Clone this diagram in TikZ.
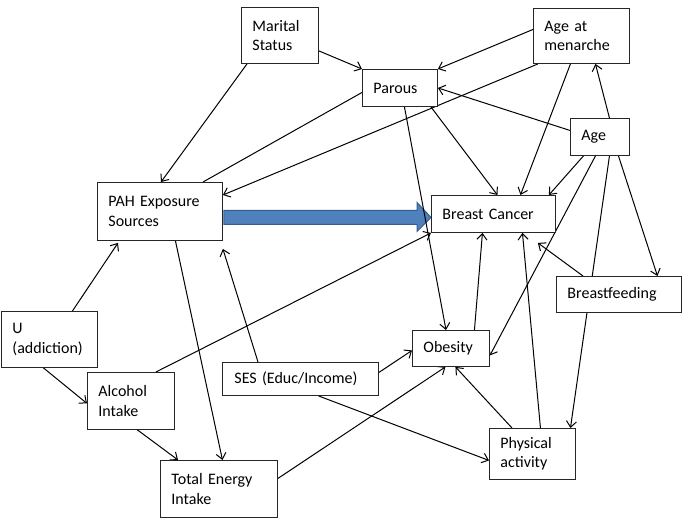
\documentclass[tikz,border=0pt]{standalone}
\usepackage{fontspec}
\setmainfont{Carlito}
\usetikzlibrary{arrows.meta,calc}
\pgfdeclarelayer{background}
\pgfsetlayers{background,main}
\definecolor{arrowblue}{HTML}{4F81BD}
\definecolor{arrowedge}{HTML}{385D8A}
\begin{document}
\begin{tikzpicture}[x=1pt,y=-1pt,
  box/.style={draw=black!85, line width=0.9pt, fill=white, inner xsep=11pt, inner ysep=0pt,
    align=left, font=\fontsize{16}{19.5}\selectfont, anchor=north west},
  link/.style={draw=black, line width=1pt, -{Straight Barb[length=6pt,width=10pt]}},
  plain/.style={draw=black, line width=1pt},
  bigarrow/.style={fill=arrowblue, draw=arrowedge, line width=1pt, line join=miter}]
\useasboundingbox (0,0) rectangle (688,520);

% nodes
\node[box, minimum width=77pt, minimum height=56pt, text width=55pt] (marital) at (241,7) {Marital\\Status};
\node[box, minimum width=75pt, minimum height=37pt, text width=53pt] (parous) at (362,69) {Parous};
\node[box, minimum width=96pt, minimum height=55pt, text width=74pt] (menarche) at (533,8) {Age at\\menarche};
\node[box, minimum width=59pt, minimum height=37pt, text width=37pt] (age) at (570,118) {Age};
\node[box, minimum width=124pt, minimum height=37pt, text width=102pt] (bc) at (431,195) {Breast Cancer};
\node[box, minimum width=125pt, minimum height=58pt, text width=103pt] (pah) at (97,182) {PAH Exposure\\Sources};
\node[box, minimum width=96pt, minimum height=56pt, text width=74pt] (u) at (1,311) {U\\(addiction)};
\node[box, minimum width=87pt, minimum height=57pt, text width=65pt] (alcohol) at (87,372) {Alcohol\\Intake};
\node[box, minimum width=156pt, minimum height=33pt, text width=132pt, inner xsep=12pt] (ses) at (222,362) {SES (Educ/Income)};
\node[box, minimum width=117pt, minimum height=57pt, text width=95pt] (tei) at (160,460) {Total Energy\\Intake};
\node[box, minimum width=77pt, minimum height=36pt, text width=55pt] (obesity) at (412,330) {Obesity};
\node[box, minimum width=125pt, minimum height=36pt, text width=103pt] (bf) at (556,276) {Breastfeeding};
\node[box, minimum width=86pt, minimum height=51pt, text width=64pt] (pa) at (489,428) {Physical\\activity};

\begin{pgfonlayer}{background}
% main blue arrow PAH -> Breast Cancer
\coordinate (ba) at ([xshift=1pt,yshift=-6pt]pah.east);
\coordinate (bt) at ([yshift=-3.5pt]bc.west);
\path[bigarrow] ($(ba)+(0,-7)$) -- ($(bt)+(-14,-7)$) -- ($(bt)+(-14,-15)$) -- (bt)
  -- ($(bt)+(-14,14)$) -- ($(bt)+(-14,7)$) -- ($(ba)+(0,7)$) -- cycle;

% connectors
\draw[link] ([xshift=6pt]marital.south west) -- ([xshift=64pt]pah.north west);
\draw[link] ([yshift=13pt]marital.south east) -- (parous.north west);
\draw[link] ([yshift=6.5pt]menarche.west) -- (parous.north east);
\draw[link] ([xshift=5pt]menarche.south west) -- ([yshift=-13pt]pah.north east);
\draw[plain] ([yshift=-4.5pt]parous.west) -- ([xshift=106pt]pah.north west);
\draw[link] ([xshift=4.5pt]parous.south) -- ([xshift=34pt]obesity.north west);
\draw[link] ([xshift=-7pt]parous.south east) -- ([xshift=4pt]bc.north);
\draw[link] ([xshift=-11pt]menarche.south) -- ([xshift=27pt]bc.north);
\draw[link] ([xshift=9.5pt]age.north) -- ([xshift=14pt]menarche.south);
\draw[link] ([yshift=6.5pt]age.west) -- (parous.east);
\draw[link] ([xshift=-16.5pt]age.south) -- ([xshift=-7pt]bc.north east);
\draw[link] ([xshift=-4.5pt]age.south) -- ([yshift=-7pt]obesity.east);
\draw[link] ([xshift=9.5pt]age.south) -- ([xshift=38pt]pa.north);
\draw[link] ([xshift=18.5pt]age.south) -- ([xshift=38.5pt]bf.north);
\draw[link] ([xshift=27pt]bf.north west) -- ([xshift=-18pt,yshift=-10pt]bc.south east);
\draw[link] ([xshift=23.5pt]obesity.north) -- ([xshift=-11pt]bc.south);
\draw[link] ([xshift=8pt]pa.north) -- ([xshift=29pt]bc.south);
\draw[link] ([xshift=23pt]pa.north west) -- ([xshift=4.5pt]obesity.south);
\draw[link] ([yshift=6.5pt]ses.east) -- ([yshift=-2pt]obesity.west);
\draw[link] ([xshift=18pt]ses.south) -- ([yshift=-6.5pt]pa.west);
\draw[link] ([xshift=36pt]ses.north west) -- ([yshift=-8pt]pah.south east);
\draw[link] ([yshift=10.5pt]tei.east) -- ([xshift=-5.5pt]obesity.south);
\draw[link] ([xshift=-19pt]alcohol.north east) -- (bc.south west);
\draw[link] ([xshift=15.5pt]pah.south) -- ([xshift=3.5pt]tei.north);
\draw[link] ([xshift=23pt]u.north) -- ([xshift=21pt,yshift=-2pt]pah.south west);
\draw[link] ([xshift=-6pt]u.south) -- ([yshift=-2.5pt]alcohol.west);
\draw[link] ([xshift=6.5pt]alcohol.south) -- ([xshift=18pt]tei.north west);
\end{pgfonlayer}
\end{tikzpicture}
\end{document}
